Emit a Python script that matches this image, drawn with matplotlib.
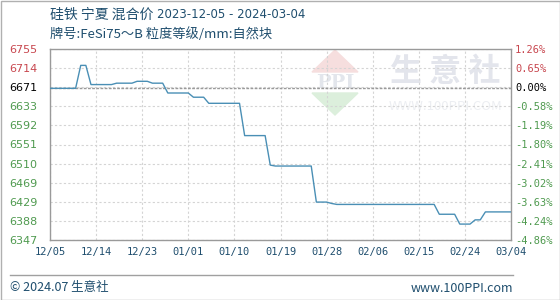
import matplotlib
matplotlib.use('Agg')
import matplotlib.pyplot as plt
from matplotlib.patches import Polygon, Rectangle
import numpy as np
import pandas as pd

plt.rcParams['font.family'] = ['Noto Sans CJK SC', 'DejaVu Sans']

# ---------------- dados ----------------
titulo = '硅铁 宁夏 混合价'
periodo = '2023-12-05 - 2024-03-04'
subtitulo = '牌号:FeSi75～B 粒度等级/mm:自然块'
base = 6671
inicio = '2023-12-05'

# preço diário (um valor por dia, 12/05 a 03/04)
precos = ([6671] * 6 + [6720] * 2 + [6679] * 5 + [6682] * 4 + [6686] * 3 +
          [6682] * 3 + [6661] * 5 + [6652] * 3 + [6639] * 7 + [6570] * 5 +
          [6507] * 1 + [6505] * 8 + [6428] * 3 + [6425] * 1 + [6423] * 20 +
          [6402] * 4 + [6381] * 3 + [6390] * 2 + [6407] * 6)

y_min = 6347
y_max = 6755
rotulos_esq = ['6347', '6388', '6429', '6469', '6510', '6551', '6592', '6633', '6671', '6714', '6755']
rotulos_dir = ['-4.86%', '-4.24%', '-3.63%', '-3.02%', '-2.41%', '-1.80%', '-1.19%', '-0.58%', '0.00%', '0.65%', '1.26%']
rotulos_x = ['12/05', '12/14', '12/23', '01/01', '01/10', '01/19', '01/28', '02/06', '02/15', '02/24', '03/04']

verde = '#4f9a4f'
vermelho = '#c8474f'
azul_txt = '#1f4e6e'
cor_linha = '#4a8fb5'

datas = pd.date_range(inicio, periods=len(precos), freq='D')
dias = np.arange(len(precos))

fig = plt.figure(figsize=(5.6, 3.0), dpi=100)
fig.patch.set_facecolor('white')
ax = fig.add_axes([50 / 560, 60 / 300, 461 / 560, 191 / 300])

# marca d'água
ax2 = fig.add_axes([0, 0, 1, 1], zorder=-1)
ax2.set_xlim(0, 560)
ax2.set_ylim(300, 0)
ax2.axis('off')
ax2.add_patch(Polygon([[312, 72], [335, 50], [358, 72]], closed=True, color='#f6dede'))
ax2.add_patch(Polygon([[312, 93], [335, 115], [358, 93]], closed=True, color='#dcefdc'))
ax2.text(335, 83, 'PPI', fontsize=14, color='#e3e6ec', ha='center', va='center',
         fontweight='bold', family='DejaVu Serif')
ax2.text(445, 72, '生 意 社', fontsize=23, color='#e3e5ec', ha='center', va='center', fontweight='bold')
ax2.text(446, 106, 'WWW.100PPI.COM', fontsize=9.5, color='#eceef2', ha='center', va='center')

ax.set_facecolor('none')
ax.plot(dias, precos, color=cor_linha, linewidth=1.0, zorder=3)
ax.axhline(base, color='#9a9a9a', linewidth=1.0, linestyle=(0, (2, 1)), zorder=2)

ax.set_xlim(0, len(precos) - 1)
ax.set_ylim(y_min, y_max)
yt = np.linspace(y_min, y_max, len(rotulos_esq))
ax.set_yticks(yt)
ax.set_yticklabels(rotulos_esq, fontsize=8, family='DejaVu Sans')
for lab, txt in zip(ax.get_yticklabels(), rotulos_esq):
    if txt == '6671':
        lab.set_color('black')
    elif int(txt) > base:
        lab.set_color(vermelho)
    else:
        lab.set_color(verde)

xt = np.arange(0, len(precos), 9)
ax.set_xticks(xt)
ax.set_xticklabels(rotulos_x, fontsize=7.5, color=azul_txt, family='DejaVu Sans Mono')
ax.tick_params(length=0, pad=5)
ax.tick_params(axis='y', pad=9)
ax.grid(True, color='#d4d4d4', linestyle=(0, (2, 2)), linewidth=0.8)
for s in ax.spines.values():
    s.set_color('#9a9a9a')
    s.set_linewidth(1.0)

axr = ax.twinx()
axr.set_ylim(y_min, y_max)
axr.set_yticks(yt)
axr.set_yticklabels(rotulos_dir, fontsize=7.5, family='DejaVu Sans Mono')
for lab, txt in zip(axr.get_yticklabels(), rotulos_dir):
    if txt == '0.00%':
        lab.set_color('black')
    elif txt.startswith('-'):
        lab.set_color(verde)
    else:
        lab.set_color(vermelho)
axr.tick_params(length=0, pad=3)
for s in axr.spines.values():
    s.set_visible(False)

fig.text(50 / 560, 1 - 15 / 300, titulo, fontsize=10, color=azul_txt, va='center')
fig.text(157 / 560, 1 - 15 / 300, periodo, fontsize=8.5, color=azul_txt, va='center',
         family='DejaVu Sans')
fig.text(50 / 560, 1 - 34 / 300, subtitulo, fontsize=9.5, color=azul_txt, va='center')

# rodapé
ax2.plot([10, 513], [275, 275], color='#a0a0a0', linewidth=1)
ax2.text(10, 288, '© 2024.07 生意社', fontsize=9, color=azul_txt, va='center')
ax2.text(513, 288, 'www.100PPI.com', fontsize=9, color=azul_txt, va='center', ha='right')
ax2.add_patch(Rectangle((0.5, 0.5), 559, 299, fill=False, edgecolor='#b0b0b0', linewidth=1))

fig.savefig('out.png', dpi=100)
